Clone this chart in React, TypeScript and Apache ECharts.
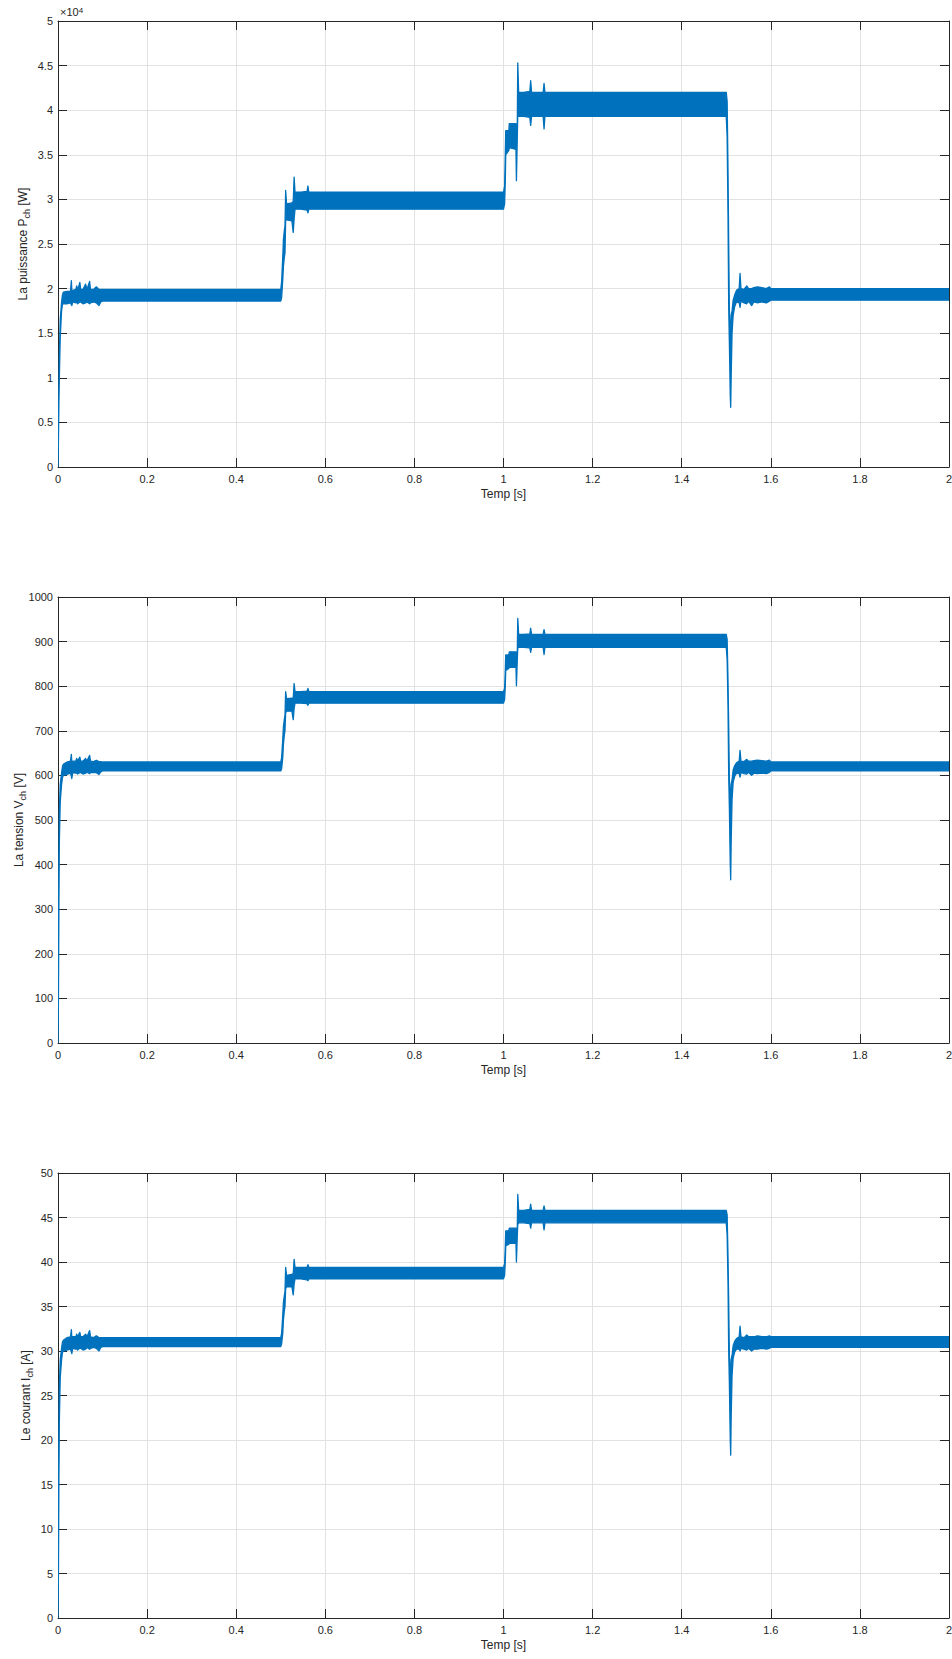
import React, { useEffect, useRef } from 'react';
import * as echarts from 'echarts';

// Shared time stamps (s) of the envelope breakpoints
const timeS = [
  0, 0.001, 0.002, 0.003, 0.005, 0.008, 0.010, 0.012, 0.020, 0.028,
  0.030, 0.031, 0.033, 0.040, 0.042, 0.044, 0.049, 0.051, 0.056, 0.062,
  0.065, 0.071, 0.073, 0.080, 0.086, 0.092, 0.096, 0.100, 0.500, 0.502,
  0.5045, 0.506, 0.508, 0.5095, 0.511, 0.513, 0.525, 0.528, 0.530, 0.532,
  0.545, 0.559, 0.561, 0.563, 1.000, 1.0025, 1.004, 1.005, 1.012, 1.013,
  1.028, 1.029, 1.031, 1.032, 1.034, 1.045, 1.059, 1.061, 1.063, 1.089,
  1.091, 1.093, 1.500, 1.502, 1.504, 1.5055, 1.507, 1.509, 1.510, 1.511,
  1.513, 1.5155, 1.519, 1.523, 1.529, 1.531, 1.533, 1.540, 1.546, 1.550,
  1.557, 1.562, 1.570, 1.580, 1.590, 1.597, 1.600, 2.000,
];

// Power P_ch (W): upper / lower envelope of the oscillating signal
const powerUpperW = [
  500, 5000, 9000, 12500, 16500, 18500, 19300, 19600, 19700, 19700,
  20900, 19800, 19800, 19900, 20300, 19800, 20700, 19900, 19900, 20500,
  19900, 20800, 19900, 19900, 20200, 19900, 19900, 19900, 19900, 20800,
  23500, 25500, 26500, 27000, 31000, 29500, 29600, 29800, 32500, 30800,
  30800, 30900, 31500, 30800, 30800, 31500, 35000, 37700, 37700, 38500,
  38500, 38000, 38500, 45300, 42000, 42000, 42100, 43300, 42000, 42000,
  43000, 42000, 42000, 41000, 33000, 25000, 17500, 15000, 12000, 17000,
  17500, 18700, 19300, 19800, 20000, 21700, 20000, 19900, 20300, 20000,
  20000, 20100, 20200, 20100, 20000, 20200, 20000, 20000,
];
const powerLowerW = [
  0, 3000, 7000, 10000, 14500, 17500, 18200, 18300, 18300, 18400,
  18200, 18100, 18500, 18400, 18500, 18300, 18500, 18500, 18300, 18400,
  18500, 18300, 18400, 18500, 18400, 18100, 18500, 18600, 18600, 19000,
  21000, 22500, 23500, 24000, 27700, 27700, 27600, 26300, 27800, 28900,
  28900, 28800, 28500, 28900, 28900, 29500, 32000, 35000, 35500, 35800,
  35600, 32100, 37000, 39500, 39300, 39300, 39200, 38300, 39300, 39300,
  37900, 39300, 39300, 37000, 28000, 18000, 14000, 8000, 6700, 10000,
  15000, 17000, 18000, 18500, 18400, 17900, 18600, 18400, 18300, 18600,
  18100, 18500, 18400, 18500, 18400, 18600, 18700, 18700,
];

// Voltage V_ch (V)
const voltUpperV = [
  80, 250, 420, 520, 580, 605, 620, 625, 630, 632,
  647, 630, 632, 632, 638, 632, 641, 632, 632, 638,
  632, 645, 632, 631, 634, 631, 631, 630, 630, 640,
  680, 710, 725, 735, 788, 772, 773, 774, 806, 788,
  788, 789, 795, 788, 788, 795, 835, 870, 870, 877,
  877, 873, 878, 952, 916, 916, 917, 930, 916, 916,
  927, 916, 916, 905, 810, 710, 590, 548, 490, 580,
  590, 612, 622, 628, 632, 656, 632, 631, 636, 632,
  632, 633, 634, 633, 632, 634, 630, 630,
];
const voltLowerV = [
  0, 100, 300, 450, 540, 580, 595, 600, 602, 605,
  598, 593, 606, 605, 606, 603, 606, 606, 603, 605,
  607, 604, 606, 607, 606, 602, 608, 610, 610, 615,
  640, 670, 690, 700, 740, 744, 744, 725, 750, 762,
  762, 761, 757, 762, 762, 770, 800, 835, 840, 843,
  842, 801, 860, 885, 887, 887, 886, 876, 887, 887,
  871, 887, 887, 860, 750, 600, 530, 400, 366, 450,
  545, 585, 598, 605, 604, 596, 607, 604, 603, 607,
  600, 605, 604, 605, 604, 607, 610, 610,
];

// Current I_ch (A)
const currUpperA = [
  4, 12, 21, 26, 29, 30.3, 31, 31.2, 31.5, 31.6,
  32.4, 31.5, 31.6, 31.6, 31.9, 31.6, 32.1, 31.6, 31.6, 31.9,
  31.6, 32.3, 31.6, 31.5, 31.7, 31.5, 31.5, 31.5, 31.5, 32,
  34, 35.5, 36.2, 36.7, 39.4, 38.5, 38.6, 38.7, 40.3, 39.4,
  39.4, 39.4, 39.7, 39.4, 39.4, 39.8, 41.7, 43.5, 43.5, 43.8,
  43.8, 43.6, 43.9, 47.6, 45.8, 45.8, 45.9, 46.5, 45.8, 45.8,
  46.3, 45.8, 45.8, 45.3, 40.5, 35.5, 29.5, 27.4, 24.5, 29,
  29.5, 30.6, 31.1, 31.4, 31.6, 32.8, 31.6, 31.5, 31.8, 31.6,
  31.6, 31.6, 31.7, 31.6, 31.6, 31.7, 31.6, 31.6,
];
const currLowerA = [
  0, 5, 15, 22, 27, 29, 29.8, 30, 30.1, 30.2,
  29.9, 29.7, 30.3, 30.2, 30.3, 30.1, 30.3, 30.3, 30.1, 30.2,
  30.4, 30.2, 30.3, 30.4, 30.3, 30.0, 30.4, 30.5, 30.5, 30.8,
  32, 33.5, 34.5, 35, 37, 37.2, 37.2, 36.3, 37.5, 38.1,
  38.1, 38.0, 37.9, 38.1, 38.1, 38.5, 40, 41.8, 42, 42.1,
  42.1, 40, 43, 44.2, 44.4, 44.4, 44.3, 43.8, 44.4, 44.4,
  43.6, 44.4, 44.4, 43, 37.5, 30, 26.5, 20, 18.3, 22.5,
  27.2, 29.2, 29.9, 30.2, 30.2, 30.0, 30.3, 30.2, 30.1, 30.3,
  30.0, 30.2, 30.2, 30.3, 30.2, 30.3, 30.4, 30.4,
];

const timeMax = 2;
const timeStep = 0.2;
const xAxisTitle = 'Temp [s]';
const panelTitles = ['La puissance P{s|ch} [W]', 'La tension V{s|ch} [V]', 'Le courant I{s|ch} [A]'];
const axisMaxes = [50000, 1000, 50];
const axisSteps = [5000, 100, 5];
const powerExponentLabel = '×10{sup|4}';

const BLUE = '#0072BD';
const INK = '#262626';
const GRIDC = '#e2e2e2';
const FONT = '"Liberation Sans", Arial, Helvetica, sans-serif';

export default function App() {
  const ref = useRef<HTMLDivElement>(null);
  useEffect(() => {
    document.body.style.margin = '0';
    if (!ref.current) return;
    const chart = echarts.init(ref.current, null, { renderer: 'svg' });

    const layouts = [
      { top: 21, height: 446, nameGap: 27 },
      { top: 597, height: 446, nameGap: 31 },
      { top: 1173, height: 445, nameGap: 24 },
    ];
    const uppers = [powerUpperW, voltUpperV, currUpperA];
    const lowers = [powerLowerW, voltLowerV, currLowerA];
    const formatters = [
      (v: number) => String(v / 10000),
      (v: number) => String(v),
      (v: number) => String(v),
    ];

    const grids: any[] = [];
    const xAxes: any[] = [];
    const yAxes: any[] = [];
    const series: any[] = [];

    layouts.forEach((lay, i) => {
      grids.push({ left: 58, width: 891, top: lay.top, height: lay.height, outerBoundsMode: 'none', containLabel: false });
      const tick = { show: true, inside: true, length: 9, lineStyle: { color: INK, width: 1 } };
      const line = { show: true, onZero: false, lineStyle: { color: INK, width: 1 } };
      xAxes.push({
        type: 'value', gridIndex: i, position: 'bottom', min: 0, max: timeMax, interval: timeStep,
        axisLine: line, axisTick: tick,
        axisLabel: { color: INK, fontSize: 11, fontFamily: FONT, margin: 6 },
        splitLine: { show: true, lineStyle: { color: GRIDC, width: 1 } },
        name: xAxisTitle, nameLocation: 'middle', nameGap: 21, nameMoveOverlap: false,
        nameTextStyle: { color: INK, fontSize: 12, fontFamily: FONT },
      });
      xAxes.push({
        type: 'value', gridIndex: i, position: 'top', min: 0, max: timeMax, interval: timeStep,
        axisLine: line, axisTick: tick, axisLabel: { show: false }, splitLine: { show: false },
      });
      yAxes.push({
        type: 'value', gridIndex: i, position: 'left', min: 0, max: axisMaxes[i], interval: axisSteps[i],
        axisLine: line, axisTick: tick,
        axisLabel: { color: INK, fontSize: 11, fontFamily: FONT, margin: 5, formatter: formatters[i] },
        splitLine: { show: true, lineStyle: { color: GRIDC, width: 1 } },
        name: panelTitles[i], nameLocation: 'middle', nameGap: lay.nameGap, nameRotate: 90, nameMoveOverlap: false,
        nameTextStyle: {
          color: INK, fontSize: 12, fontFamily: FONT, lineHeight: 17,
          rich: { s: { fontSize: 9, fontFamily: FONT, color: INK, verticalAlign: 'bottom', lineHeight: 9 } },
        },
      });
      yAxes.push({
        type: 'value', gridIndex: i, position: 'right', min: 0, max: axisMaxes[i], interval: axisSteps[i],
        axisLine: line, axisTick: tick, axisLabel: { show: false }, splitLine: { show: false },
      });
      const up = uppers[i];
      const lo = lowers[i];
      series.push({
        type: 'custom',
        coordinateSystem: 'cartesian2d',
        xAxisIndex: 2 * i,
        yAxisIndex: 2 * i,
        clip: true,
        z: 3,
        data: timeS.map((t, k) => [t, lo[k], up[k]]),
        encode: { x: 0, y: [1, 2] },
        renderItem: (params: any, api: any) => {
          if (params.dataIndex !== 0) return null;
          const pts: number[][] = [];
          for (let k = 0; k < timeS.length; k++) pts.push(api.coord([timeS[k], up[k]]));
          for (let k = timeS.length - 1; k >= 0; k--) pts.push(api.coord([timeS[k], lo[k]]));
          return {
            type: 'polygon',
            shape: { points: pts },
            style: { fill: BLUE, stroke: BLUE, lineWidth: 1.3, lineJoin: 'round' },
          };
        },
      });
    });

    chart.setOption({
      animation: false,
      backgroundColor: '#ffffff',
      grid: grids,
      xAxis: xAxes,
      yAxis: yAxes,
      series,
      graphic: [
        {
          type: 'text', left: 60, top: 6,
          style: {
            text: powerExponentLabel, fill: INK, fontSize: 11, fontFamily: FONT,
            rich: { sup: { fontSize: 8, fontFamily: FONT, fill: INK, verticalAlign: 'top' } },
          },
        },
      ],
    });
    return () => chart.dispose();
  }, []);
  return <div ref={ref} style={{ width: 952, height: 1659 }} />;
}
